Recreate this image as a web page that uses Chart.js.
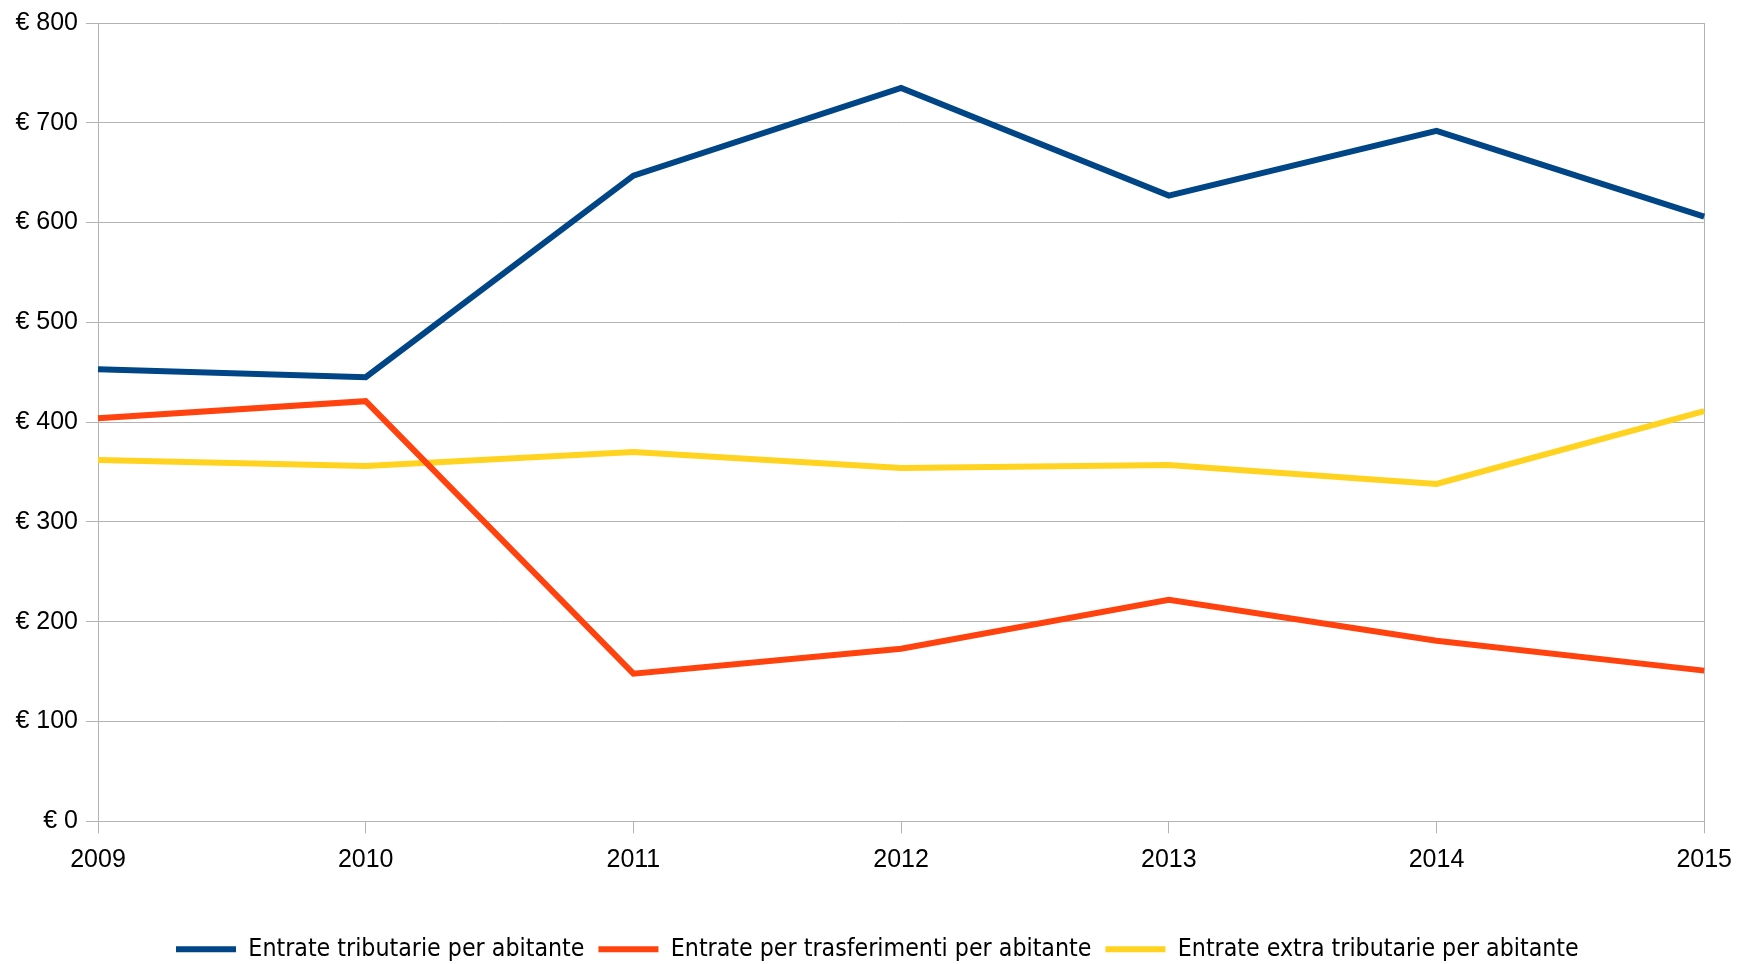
<!DOCTYPE html>
<html lang="it">
<head>
    <meta charset="UTF-8">
    <title>Entrate per abitante</title>
    <script src="https://cdn.jsdelivr.net/npm/chart.js"></script>
    <style>
        body {margin: 0; background: #fff;}
        #chart {display: block;}
    </style>
</head>
<body>
    <canvas id="chart" width="1744" height="964"></canvas>
    <script>
        // values
        const years = ['2009', '2010', '2011', '2012', '2013', '2014', '2015'];
        const tributarie = [453, 445, 647, 735, 627, 692, 606];
        const trasferimenti = [404, 421, 148, 173, 222, 181, 151];
        const extraTributarie = [362, 356, 370, 354, 357, 338, 411];
        const yTicks = [0, 100, 200, 300, 400, 500, 600, 700, 800];

        const gridGrey = '#b3b3b3';
        const lastIdx = years.length - 1;

        // legend in the reference is not centred, move its box by hand
        const legendShift = {
            id: 'legendShift',
            afterLayout(chart) {
                const lg = chart.legend;
                const h = lg.height;
                lg.left = 162;
                lg.right = 1744;
                lg.top = 923;
                lg.bottom = 923 + h;
            }
        };

        const makeSet = (label, data, color) => ({
            label: label,
            data: data,
            borderColor: color,
            backgroundColor: color,
            borderWidth: 6,
            pointRadius: 0,
            pointHoverRadius: 0,
            tension: 0,
            fill: false
        });

        new Chart(document.getElementById('chart'), {
            type: 'line',
            data: {
                labels: years,
                datasets: [
                    makeSet('Entrate tributarie per abitante', tributarie, '#004586'),
                    makeSet('Entrate per trasferimenti per abitante', trasferimenti, '#ff420e'),
                    makeSet('Entrate extra tributarie per abitante', extraTributarie, '#ffd320')
                ]
            },
            options: {
                responsive: false,
                devicePixelRatio: 1,
                animation: false,
                layout: {padding: {top: 22, right: 34, bottom: 24, left: 0}},
                plugins: {
                    tooltip: {enabled: false},
                    legend: {
                        position: 'bottom',
                        align: 'start',
                        labels: {
                            usePointStyle: true,
                            pointStyle: 'line',
                            pointStyleWidth: 60,
                            padding: 14,
                            color: '#000',
                            font: {family: '"DejaVu Sans Condensed", "Liberation Sans", sans-serif', size: 24.7}
                        }
                    }
                },
                scales: {
                    x: {
                        grid: {
                            color: (c) => (c.index === 0 || c.index === lastIdx) ? gridGrey : 'rgba(0,0,0,0)',
                            tickColor: gridGrey,
                            tickLength: 12,
                            lineWidth: 1
                        },
                        border: {color: gridGrey},
                        ticks: {
                            color: '#000',
                            padding: 12,
                            maxRotation: 0,
                            font: {family: '"Liberation Sans", Arial, sans-serif', size: 25}
                        },
                        afterFit(scale) { scale.height = 70; }
                    },
                    y: {
                        min: 0,
                        max: 800,
                        afterBuildTicks(scale) { scale.ticks = yTicks.map(v => ({value: v})); },
                        grid: {color: gridGrey, tickColor: gridGrey, tickLength: 12},
                        border: {color: gridGrey},
                        ticks: {
                            color: '#000',
                            padding: 8,
                            font: {family: '"Liberation Sans", Arial, sans-serif', size: 25},
                            callback: (v) => '€ ' + v
                        },
                        afterFit(scale) { scale.width = 98; }
                    }
                }
            },
            plugins: [legendShift]
        });
    </script>
</body>
</html>
